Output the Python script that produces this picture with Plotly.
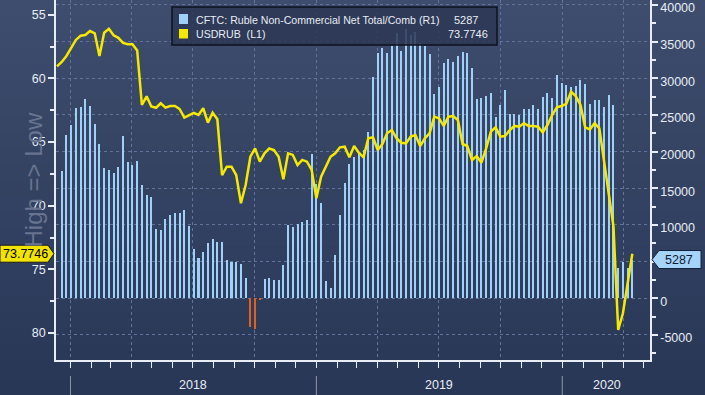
import plotly.graph_objects as go
import pandas as pd

# ---------------- data ----------------
bar_start = "2017-12-19"   # first weekly CFTC report shown
line_start = "2017-12-12"  # first weekly USDRUB point shown

cftc_net = [
    17360, 22270, 23630, 26000, 26040, 27180, 26220, 23730, 21040, 17770,
    17500, 17090, 17900, 22130, 18590, 18180, 18730, 15450, 14090, 13820,
    9450, 9320, 10820, 11360, 11590, 11680, 12040, 9860, 6730, 5550,
    6360, 7590, 8090, 7730, 7730, 5230, 4950, 4950, 4680, 2820,
    -3870, -4250, -150, 2640, 2820, 2500, 2500, 4550, 10000, 9770,
    10140, 10410, 10680, 19680, 15590, 13040, 2360, 1450, 5910, 11360,
    15680, 18320, 19230, 19770, 20230, 22630, 30230, 33500, 34090, 33410,
    34400, 36220, 33720, 36680, 35900, 36300, 34860, 34400, 33320, 27860,
    28860, 32130, 32630, 32270, 33090, 33590, 33500, 31360, 27180, 27360,
    27590, 27950, 24770, 26360, 28410, 25130, 25090, 25000, 25770, 25770,
    26360, 25770, 27400, 27950, 27270, 30450, 29320, 29040, 28770, 28950,
    29770, 29180, 26450, 27040, 27040, 26040, 27680, 26410, 4090, 4910,
    4090, 5287,
]

usdrub = [
    59.05, 58.70, 58.23, 57.63, 56.97, 56.64, 56.58, 56.27, 56.45, 58.23,
    56.40, 56.10, 56.60, 56.80, 57.20, 57.30, 57.30, 57.80, 62.08, 61.40,
    62.20, 62.30, 61.95, 62.29, 62.16, 62.16, 62.40, 63.08, 62.87, 62.70,
    62.87, 62.34, 63.47, 62.69, 63.21, 67.59, 66.93, 66.93, 67.59, 69.81,
    68.37, 66.15, 65.49, 66.54, 65.88, 65.50, 65.62, 66.15, 67.92, 65.88,
    66.01, 66.80, 66.40, 66.54, 67.19, 69.42, 67.72, 66.93, 66.15, 65.88,
    65.41, 65.36, 66.20, 65.31, 65.83, 66.20, 64.70, 64.62, 65.62, 65.15,
    64.31, 64.05, 64.70, 65.05, 65.10, 64.57, 64.44, 65.31, 64.70, 64.31,
    63.00, 63.13, 63.73, 63.00, 62.95, 63.26, 65.15, 65.31, 66.41, 66.10,
    66.62, 65.49, 64.18, 63.84, 64.57, 64.52, 64.05, 63.73, 63.79, 63.52,
    63.73, 63.73, 63.79, 64.23, 63.66, 62.87, 62.27, 62.16, 62.00, 61.04,
    61.38, 62.08, 63.84, 64.00, 63.52, 63.92, 66.41, 68.77, 71.65, 79.77,
    78.46, 76.10, 73.7746,
]

left_ticks = [55, 60, 65, 70, 75, 80]
left_minor = [57.5, 62.5, 67.5, 72.5, 77.5, 82.5]
right_ticks = [-5000, 0, 5000, 10000, 15000, 20000, 25000, 30000, 35000, 40000]
right_tick_text = ["-5000", "0", "", "10000", "15000", "20000", "25000", "30000", "35000", "40000"]
right_minor = [-7500, -2500, 2500, 7500, 12500, 17500, 22500, 27500, 32500, 37500]
year_labels = ["2018", "2019", "2020"]
year_label_dates = ["2018-07-02", "2019-07-02", "2020-03-07"]
year_starts = ["2018-01-01", "2019-01-01", "2020-01-01"]

bar_dates = pd.date_range(bar_start, periods=len(cftc_net), freq="7D")
line_dates = pd.date_range(line_start, periods=len(usdrub), freq="7D")

# ---------------- style ----------------
W, H = 705, 395
ML, MR, MT, MB = 56, 55, 0, 35
PW, PH = W - ML - MR, H - MT - MB
FONT = "Liberation Sans, Arial, sans-serif"
TXT = "#e8ecf5"
GRID = "#62729a"
BLUE = "#9fd0f8"
ORANGE = "#e2601e"
YELLOW = "#f4ea00"


def px_x(p):
    return (p - ML) / PW


def px_y(p):
    return 1 - (p - MT) / PH


fig = go.Figure()

fig.add_trace(go.Bar(
    x=bar_dates, y=cftc_net, yaxis="y",
    marker=dict(color=[BLUE if v >= 0 else ORANGE for v in cftc_net], line=dict(width=0)),
    width=3 * 86400000, name="CFTC: Ruble Non-Commercial Net Total/Comb (R1)",
    showlegend=False,
))
fig.add_trace(go.Scatter(
    x=line_dates, y=usdrub, yaxis="y2", mode="lines",
    line=dict(color=YELLOW, width=2.5), name="USDRUB (L1)", showlegend=False,
))

shapes = []
# background gradient
top_c = (0x3e, 0x4c, 0x6d)
bot_c = (0x29, 0x37, 0x57)
n = 24
for i in range(n):
    t = i / (n - 1)
    c = tuple(int(round(top_c[k] + (bot_c[k] - top_c[k]) * t)) for k in range(3))
    y0 = px_y(i * H / n)
    y1 = px_y((i + 1) * H / n)
    shapes.append(dict(type="rect", xref="paper", yref="paper", x0=px_x(-2), x1=px_x(W + 2),
                       y0=y1 - 0.002, y1=y0 + 0.002, fillcolor="rgb(%d,%d,%d)" % c,
                       line=dict(width=0), layer="below"))

# year separators
for d in year_starts:
    shapes.append(dict(type="line", xref="x", yref="paper", x0=d, x1=d,
                       y0=px_y(376), y1=px_y(396), line=dict(color="#8c96aa", width=1)))

# legend box
shapes.append(dict(type="rect", xref="paper", yref="paper", x0=px_x(172), x1=px_x(497),
                   y0=px_y(45), y1=px_y(7), fillcolor="rgba(44,56,84,0.86)",
                   line=dict(color="#0c1220", width=1.5), layer="above"))
shapes.append(dict(type="rect", xref="paper", yref="paper", x0=px_x(179), x1=px_x(188),
                   y0=px_y(24), y1=px_y(14), fillcolor=BLUE, line=dict(width=0), layer="above"))
shapes.append(dict(type="rect", xref="paper", yref="paper", x0=px_x(179), x1=px_x(188),
                   y0=px_y(38.5), y1=px_y(29), fillcolor=YELLOW, line=dict(width=0), layer="above"))

# last value flags
lv = usdrub[-1]
hu = 8.5 / 12.72
shapes.append(dict(type="path", xref="paper", yref="y2", layer="above",
                   path="M %f,%f L %f,%f L %f,%f L %f,%f L %f,%f Z" % (
                       px_x(0), lv - hu, px_x(48), lv - hu, px_x(54), lv,
                       px_x(48), lv + hu, px_x(0), lv + hu),
                   fillcolor="#f3e400", line=dict(color="#1a1a1a", width=1)))
rv = cftc_net[-1]
hr = 9 * 5000 / 36.67
shapes.append(dict(type="path", xref="paper", yref="y", layer="above",
                   path="M %f,%f L %f,%f L %f,%f L %f,%f L %f,%f Z" % (
                       px_x(652), rv, px_x(659), rv + hr, px_x(701), rv + hr,
                       px_x(701), rv - hr, px_x(659), rv - hr),
                   fillcolor="#a6d3f8", line=dict(color="#14233c", width=1)))

LEG = 10.6
annotations = [
    dict(text="High => Low", textangle=-90, xref="paper", yref="paper", x=px_x(17), y=px_y(180),
         showarrow=False, font=dict(family=FONT, size=24, color="#68748f")),
    dict(text="CFTC: Ruble Non-Commercial Net Total/Comb (R1)", xref="paper", yref="paper",
         x=px_x(194), y=px_y(19.5), xanchor="left", yanchor="middle", showarrow=False,
         font=dict(family=FONT, size=LEG, color=TXT)),
    dict(text="USDRUB  (L1)", xref="paper", yref="paper",
         x=px_x(194), y=px_y(33.5), xanchor="left", yanchor="middle", showarrow=False,
         font=dict(family=FONT, size=LEG, color=TXT)),
    dict(text=f"{cftc_net[-1]}", xref="paper", yref="paper",
         x=px_x(452), y=px_y(19.5), xanchor="left", yanchor="middle", showarrow=False,
         font=dict(family=FONT, size=LEG + 0.4, color=TXT)),
    dict(text=f"{usdrub[-1]:.4f}", xref="paper", yref="paper",
         x=px_x(490), y=px_y(33.5), xanchor="right", yanchor="middle", showarrow=False,
         font=dict(family=FONT, size=LEG + 0.4, color=TXT)),
    dict(text=f"{usdrub[-1]:.4f}", xref="paper", yref="y2", x=px_x(25), y=lv,
         xanchor="center", yanchor="middle", showarrow=False,
         font=dict(family=FONT, size=12.5, color="#000000")),
    dict(text=f"{cftc_net[-1]}", xref="paper", yref="y", x=px_x(679), y=rv,
         xanchor="center", yanchor="middle", showarrow=False,
         font=dict(family=FONT, size=12.5, color="#0d1b33")),
]
for lab, d in zip(year_labels, year_label_dates):
    annotations.append(dict(text=lab, xref="x", yref="paper", x=d, y=px_y(385),
                            xanchor="center", yanchor="middle", showarrow=False,
                            font=dict(family=FONT, size=12.5, color=TXT)))

fig.update_layout(
    width=W, height=H,
    margin=dict(l=ML, r=MR, t=MT, b=MB, pad=0),
    paper_bgcolor="#323f5e",
    plot_bgcolor="rgba(0,0,0,0)",
    bargap=0,
    showlegend=False,
    shapes=shapes,
    annotations=annotations,
    xaxis=dict(
        type="date", range=["2017-12-10 12:00", "2020-05-10 05:00"],
        showgrid=True, gridcolor=GRID, griddash="dot", gridwidth=1,
        tick0="2018-01-01", dtick="M3", ticks="outside", ticklen=6, tickcolor=TXT,
        showticklabels=False, showline=True, linecolor=TXT, linewidth=1.5,
        zeroline=False,
        minor=dict(tick0="2018-01-01", dtick="M1", ticks="outside", ticklen=6,
                   tickcolor=TXT, showgrid=False),
    ),
    yaxis=dict(
        side="right", range=[-8413, 40674],
        tickmode="array", tickvals=right_ticks, ticktext=right_tick_text,
        ticks="outside", ticklen=6, tickwidth=2, tickcolor=TXT,
        tickfont=dict(family=FONT, size=12.5, color=TXT),
        ticklabeloverflow="allow", ticklabelshift=3,
        showline=True, linecolor=TXT, linewidth=1.5,
        showgrid=True, gridcolor=GRID, griddash="dot", gridwidth=1,
        zeroline=False, automargin=False,
        minor=dict(tickmode="array", tickvals=right_minor, ticks="outside", ticklen=4,
                   tickcolor=TXT, showgrid=False),
    ),
    yaxis2=dict(
        overlaying="y", side="left", range=[82.13, 53.83],
        tickmode="array", tickvals=left_ticks,
        ticks="outside", ticklen=6, tickwidth=2, tickcolor=TXT,
        tickfont=dict(family=FONT, size=12.5, color=TXT),
        ticklabeloverflow="allow",
        showline=True, linecolor=TXT, linewidth=1.5,
        showgrid=False, zeroline=False, automargin=False,
        minor=dict(tickmode="array", tickvals=left_minor, ticks="outside", ticklen=4,
                   tickcolor=TXT, showgrid=False),
    ),
)

fig.write_html(
    "out.html",
    config={"displayModeBar": False},
    post_script="document.body.style.margin='0px';document.body.style.overflow='hidden';",
)
